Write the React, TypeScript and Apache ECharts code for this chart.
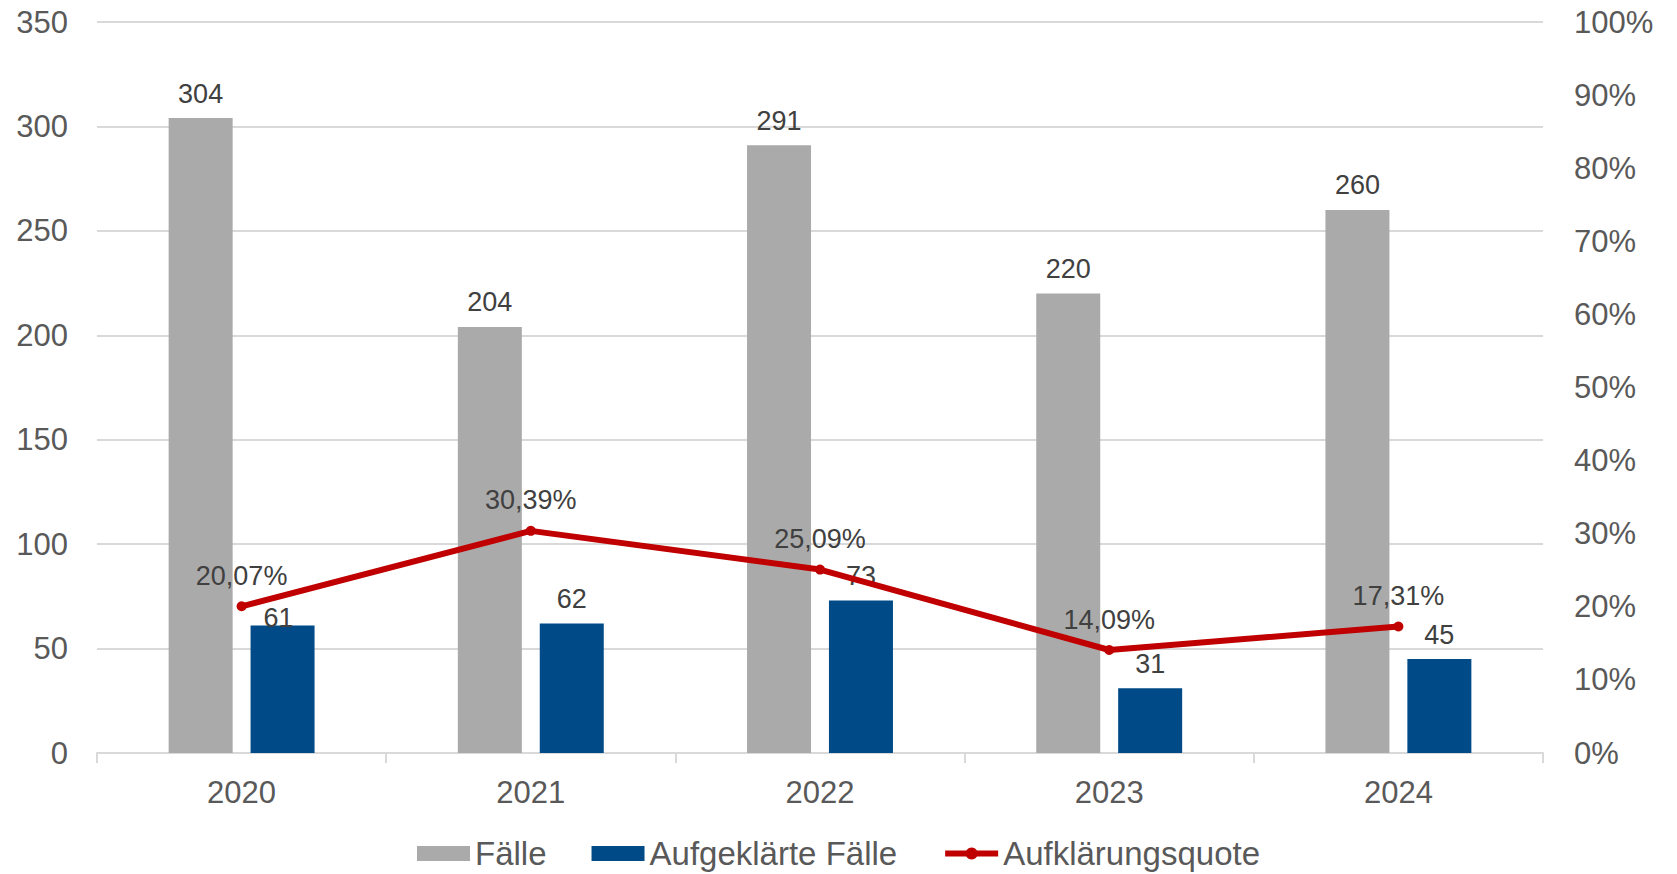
import React, { useEffect, useRef } from "react";
import * as echarts from "echarts";

const years = ["2020", "2021", "2022", "2023", "2024"];
const faelle = [304, 204, 291, 220, 260];
const aufgeklaert = [61, 62, 73, 31, 45];
const quote = [20.07, 30.39, 25.09, 14.09, 17.31];
const seriesNames = ["Fälle", "Aufgeklärte Fälle", "Aufklärungsquote"];

const FONT = "'Liberation Sans', Arial, sans-serif";

export default function App() {
  const ref = useRef<HTMLDivElement>(null);
  useEffect(() => {
    if (!ref.current) return;
    const chart = echarts.init(ref.current, null, { renderer: "svg" });
    const labelStyle = {
      show: true,
      position: "top",
      distance: 11,
      color: "#404040",
      fontSize: 27,
      fontFamily: FONT,
    };
    chart.setOption({
      animation: false,
      textStyle: { fontFamily: FONT },
      grid: { left: 97, right: 134, top: 22, bottom: 121, containLabel: false },
      legend: {
        left: "center",
        top: 837,
        padding: 0,
        itemWidth: 53,
        itemHeight: 15,
        itemGap: 45,
        textStyle: { fontSize: 33, lineHeight: 33, color: "#595959", fontFamily: FONT },
        data: [
          { name: seriesNames[0], icon: "rect" },
          { name: seriesNames[1], icon: "rect" },
          { name: seriesNames[2], lineStyle: { width: 6 } },
        ],
      },
      xAxis: {
        type: "category",
        data: years,
        axisLine: { lineStyle: { color: "#d9d9d9", width: 2 } },
        axisTick: { show: true, length: 10, lineStyle: { color: "#d9d9d9", width: 2 } },
        axisLabel: { fontSize: 31, color: "#595959", margin: 24, fontFamily: FONT },
      },
      yAxis: [
        {
          type: "value",
          min: 0,
          max: 350,
          interval: 50,
          axisLine: { show: false },
          axisTick: { show: false },
          splitLine: { lineStyle: { color: "#d9d9d9", width: 2 } },
          axisLabel: { fontSize: 31, color: "#595959", margin: 29, fontFamily: FONT },
        },
        {
          type: "value",
          min: 0,
          max: 100,
          interval: 10,
          axisLine: { show: false },
          axisTick: { show: false },
          splitLine: { show: false },
          axisLabel: {
            fontSize: 31,
            color: "#595959",
            margin: 31,
            fontFamily: FONT,
            formatter: "{value}%",
          },
        },
      ],
      series: [
        {
          name: seriesNames[0],
          type: "bar",
          data: faelle,
          barWidth: 64,
          barGap: "28%",
          itemStyle: { color: "#aaaaaa" },
          label: labelStyle,
        },
        {
          name: seriesNames[1],
          type: "bar",
          data: aufgeklaert.map((v, i) =>
            i === 0 ? { value: v, label: { offset: [-4, 17] } } : v
          ),
          barWidth: 64,
          barGap: "28%",
          itemStyle: { color: "#004b87" },
          label: labelStyle,
        },
        {
          name: seriesNames[2],
          type: "line",
          yAxisIndex: 1,
          data: quote,
          z: 5,
          symbol: "circle",
          symbolSize: 10,
          lineStyle: { color: "#c00000", width: 6 },
          itemStyle: { color: "#c00000" },
          label: {
            ...labelStyle,
            distance: 12,
            formatter: (p: any) => p.value.toFixed(2).replace(".", ",") + "%",
          },
        },
      ],
    });
    return () => chart.dispose();
  }, []);
  return (
    <div
      ref={ref}
      style={{ position: "absolute", left: 0, top: 0, width: 1677, height: 874, background: "#fff" }}
    />
  );
}
